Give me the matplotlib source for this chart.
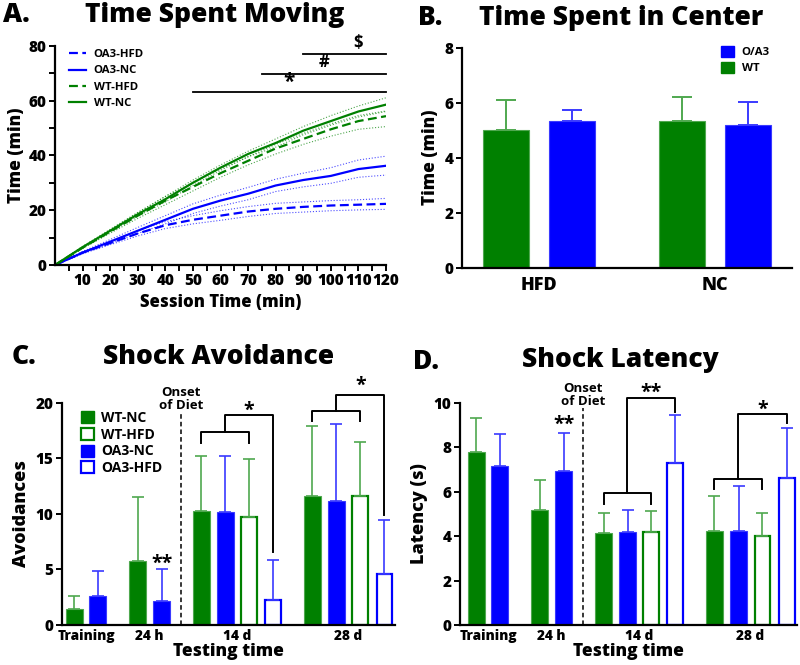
import matplotlib
matplotlib.use("Agg")
import matplotlib.pyplot as plt
from matplotlib.patches import Patch
import numpy as np

plt.rcParams['font.family'] = ['Open Sans', 'DejaVu Sans']
plt.rcParams['font.weight'] = 'bold'
plt.rcParams['axes.labelweight'] = 'bold'

GREEN = '#008000'
BLUE = '#0000ff'
GREEN_ERR = '#4fa84f'
BLUE_ERR = '#3a3aff'

# ---------------- Panel A data ----------------
session_time = [0, 10, 20, 30, 40, 50, 60, 70, 80, 90, 100, 110, 120]
wt_nc_mean = [0, 6.5, 12.5, 18.5, 24, 30, 35.5, 40.5, 44.5, 49, 52.5, 56, 58.5]
wt_nc_upper = [0, 6.8, 13, 19.2, 25, 31, 36.5, 41.5, 46, 50.5, 54.5, 58, 61]
wt_nc_lower = [0, 6.2, 12, 17.8, 23, 29, 34.5, 39.5, 43, 47.5, 51, 54, 56]
wt_hfd_mean = [0, 6.3, 12.2, 18, 23.5, 28.5, 33.5, 38, 42.5, 46, 49.5, 52.5, 54.3]
wt_hfd_upper = [0, 6.6, 12.8, 19, 25, 30, 35, 39.5, 44, 48, 51.5, 54.5, 56.2]
wt_hfd_lower = [0, 6, 11.6, 17, 22, 27, 32, 36.5, 40.5, 44, 47, 49.5, 50.5]
oa3_nc_mean = [0, 4.5, 8.5, 12.5, 16.5, 20.5, 23.5, 26, 29, 31, 32.5, 35, 36.2]
oa3_nc_upper = [0, 4.9, 9.3, 13.7, 18, 22.3, 25.5, 28.3, 31.3, 33.5, 35.5, 38.3, 39.7]
oa3_nc_lower = [0, 4.1, 7.8, 11.5, 15, 18.8, 21.5, 23.8, 26.8, 28.5, 29.8, 32, 32.8]
oa3_hfd_mean = [0, 4.5, 8, 11.5, 14.5, 16.5, 18, 19.5, 20.5, 21.2, 21.7, 22, 22.3]
oa3_hfd_upper = [0, 4.8, 8.7, 12.5, 15.8, 18, 19.8, 21.3, 22.5, 23, 23.5, 23.8, 24.3]
oa3_hfd_lower = [0, 4.2, 7.4, 10.6, 13.3, 15, 16.3, 17.7, 18.8, 19.3, 19.8, 20.1, 20.3]

# significance lines: (start, end, y, symbol)
sig_start = [90, 75, 50]
sig_end = [120, 120, 120]
sig_y = [76.8, 69.8, 63.2]
sig_symbols = ['$', '#', '*']

# ---------------- Panel B data ----------------
diet_groups = ['HFD', 'NC']
center_wt = [5.0, 5.33]
center_wt_err = [1.1, 0.87]
center_oa3 = [5.32, 5.18]
center_oa3_err = [0.41, 0.85]

# ---------------- Panel C / D data ----------------
test_times = ['Training', '24 h', '14 d', '28 d']
avoid_wt_nc = [1.47, 5.79, 10.3, 11.57]
avoid_wt_nc_err = [1.1, 5.7, 4.9, 6.3]
avoid_oa3_nc = [2.6, 2.19, 10.17, 11.15]
avoid_oa3_nc_err = [2.26, 2.81, 5.03, 6.95]
avoid_wt_hfd = [9.69, 11.57]
avoid_wt_hfd_err = [5.27, 4.93]
avoid_oa3_hfd = [2.28, 4.56]
avoid_oa3_hfd_err = [3.6, 4.89]

lat_wt_nc = [7.8, 5.17, 4.15, 4.21]
lat_wt_nc_err = [1.5, 1.35, 0.87, 1.58]
lat_oa3_nc = [7.14, 6.93, 4.2, 4.24]
lat_oa3_nc_err = [1.45, 1.72, 0.97, 2.03]
lat_wt_hfd = [4.2, 4.02]
lat_wt_hfd_err = [0.91, 1.0]
lat_oa3_hfd = [7.27, 6.6]
lat_oa3_hfd_err = [2.19, 2.28]

# ---------------- layout ----------------
fig = plt.figure(figsize=(8, 6.65), dpi=100)
H = 665.0

def fx(px):
    return px / 800.0

def fy(py):
    return 1 - py / H

def style_axes(ax):
    for s in ['top', 'right']:
        ax.spines[s].set_visible(False)
    for s in ['left', 'bottom']:
        ax.spines[s].set_linewidth(1.6)
        ax.spines[s].set_color('black')
    ax.tick_params(axis='both', which='major', width=1.4, length=4, labelsize=11, direction='out', pad=2)
    for lab in ax.get_xticklabels() + ax.get_yticklabels():
        lab.set_fontweight('heavy')

TITLE_FS = 19
TW = 'heavy'

# ---------------- Panel A ----------------
axA = fig.add_axes([fx(55), fy(265), fx(386 - 55), (265 - 45.7) / H])
t = np.array(session_time)
bands = [(wt_nc_upper, wt_nc_lower, GREEN), (wt_hfd_upper, wt_hfd_lower, GREEN),
         (oa3_nc_upper, oa3_nc_lower, BLUE), (oa3_hfd_upper, oa3_hfd_lower, BLUE)]
for up, lo, c in bands:
    axA.plot(t, up, color=c, lw=0.8, ls=':', alpha=0.7)
    axA.plot(t, lo, color=c, lw=0.8, ls=':', alpha=0.7)
axA.plot(t, oa3_hfd_mean, color=BLUE, lw=1.6, ls=(0, (4, 2)), label='OA3-HFD')
axA.plot(t, oa3_nc_mean, color=BLUE, lw=1.6, label='OA3-NC')
axA.plot(t, wt_hfd_mean, color=GREEN, lw=1.6, ls=(0, (4, 2)), label='WT-HFD')
axA.plot(t, wt_nc_mean, color=GREEN, lw=1.6, label='WT-NC')
for s0, s1, yy, sym in zip(sig_start, sig_end, sig_y, sig_symbols):
    axA.plot([s0, s1], [yy, yy], color='black', lw=1.3, clip_on=False)
    xm = (s0 + s1) / 2 + (5 if sym == '$' else 0)
    fs = 15 if sym == '*' else 12
    dy = -0.6 if sym == '*' else 0.8
    axA.text(xm, yy + dy, sym, ha='center', va='bottom', fontsize=fs, fontweight='bold')
axA.set_xlim(0, 120)
axA.set_ylim(0, 80)
axA.set_xticks(range(10, 121, 10))
axA.set_xticks(range(5, 121, 10), minor=True)
axA.set_yticks([0, 20, 40, 60, 80])
axA.set_yticks([10, 30, 50, 70], minor=True)
axA.tick_params(which='minor', length=4, width=1.4)
style_axes(axA)
axA.set_xlabel('Session Time (min)', fontsize=12, labelpad=3, fontweight=TW)
axA.set_ylabel('Time (min)', fontsize=12.5, labelpad=3, fontweight=TW)
axA.legend(loc='upper left', bbox_to_anchor=(0.01, 1.03), frameon=False,
           prop={'size': 8.2, 'weight': 'bold'}, handlelength=1.5,
           labelspacing=0.45, handletextpad=0.7)
fig.text(fx(3), fy(15), 'A.', fontsize=TITLE_FS, fontweight=TW, va='center', ha='left')
fig.text(fx(215), fy(15), 'Time Spent Moving', fontsize=TITLE_FS, fontweight=TW, va='center', ha='center')

# ---------------- Panel B ----------------
axB = fig.add_axes([fx(461.7), fy(267.7), fx(791.7 - 461.7), (267.7 - 47.7) / H])
b_centers = np.array([1.17, 3.84])
bw = 0.7
axB.bar(b_centers - 0.5, center_wt, bw, color=GREEN, edgecolor=GREEN_ERR, lw=0.8,
        yerr=[np.zeros(2), center_wt_err], error_kw=dict(ecolor=GREEN_ERR, capsize=7, elinewidth=1.4, capthick=1.4),
        label='WT')
axB.bar(b_centers + 0.5, center_oa3, bw, color=BLUE, edgecolor=BLUE_ERR, lw=0.8,
        yerr=[np.zeros(2), center_oa3_err], error_kw=dict(ecolor=BLUE_ERR, capsize=7, elinewidth=1.4, capthick=1.4),
        label='O/A3')
axB.set_xlim(0, 5)
axB.set_ylim(0, 8)
axB.set_yticks([0, 2, 4, 6, 8])
axB.set_xticks(b_centers)
axB.set_xticklabels(diet_groups)
style_axes(axB)
axB.tick_params(axis='x', length=0, labelsize=13, pad=7)
axB.set_ylabel('Time (min)', fontsize=12.5, labelpad=4, fontweight=TW)
hB = [Patch(facecolor=BLUE, edgecolor=BLUE), Patch(facecolor=GREEN, edgecolor=GREEN)]
axB.legend(hB, ['O/A3', 'WT'], loc='upper right', bbox_to_anchor=(0.965, 1.055), frameon=False,
           prop={'size': 8.2, 'weight': 'bold'}, handlelength=1.15, handleheight=1.15,
           labelspacing=0.3, handletextpad=0.7)
fig.text(fx(418), fy(18), 'B.', fontsize=TITLE_FS, fontweight=TW, va='center', ha='left')
fig.text(fx(621), fy(18), 'Time Spent in Center', fontsize=TITLE_FS, fontweight=TW, va='center', ha='center')

# ---------------- Panels C and D ----------------
base_pos = [[0.53, 1.51], [3.17, 4.17], [5.83, 6.83, 7.8, 8.8], [10.45, 11.46, 12.45, 13.46]]
DW = 0.71

def draw_timecourse(ax, off, wt_nc, wt_nc_e, oa3_nc, oa3_nc_e, wt_hfd, wt_hfd_e, oa3_hfd, oa3_hfd_e, cap=4.5):
    p_wt_nc = np.array([g[0] for g in base_pos]) + off
    p_oa3_nc = np.array([g[1] for g in base_pos]) + off
    p_wt_hfd = np.array([g[2] for g in base_pos[2:]]) + off
    p_oa3_hfd = np.array([g[3] for g in base_pos[2:]]) + off
    ek_g = dict(ecolor=GREEN_ERR, capsize=cap, elinewidth=1.2, capthick=1.2)
    ek_b = dict(ecolor=BLUE_ERR, capsize=cap, elinewidth=1.2, capthick=1.2)
    ax.bar(p_wt_nc, wt_nc, DW, color=GREEN, edgecolor=GREEN_ERR, lw=0.8,
           yerr=[np.zeros(len(wt_nc)), wt_nc_e], error_kw=ek_g, label='WT-NC')
    ax.bar(p_oa3_nc, oa3_nc, DW, color=BLUE, edgecolor=BLUE_ERR, lw=0.8,
           yerr=[np.zeros(len(oa3_nc)), oa3_nc_e], error_kw=ek_b, label='OA3-NC')
    ax.bar(p_wt_hfd, wt_hfd, DW * 0.92, color='white', edgecolor=GREEN, lw=1.6,
           yerr=[np.zeros(len(wt_hfd)), wt_hfd_e], error_kw=ek_g, label='WT-HFD')
    ax.bar(p_oa3_hfd, oa3_hfd, DW * 0.92, color='white', edgecolor=BLUE, lw=1.6,
           yerr=[np.zeros(len(oa3_hfd)), oa3_hfd_e], error_kw=ek_b, label='OA3-HFD')
    centers = [np.mean(g) + off for g in base_pos]
    ax.set_xticks(centers)
    ax.set_xticklabels(test_times)
    return p_wt_nc, p_oa3_nc, p_wt_hfd, p_oa3_hfd

def bracket(ax, xa, xb, y_low_leg, y_low, x_target, y_top, y_target):
    xm = (xa + xb) / 2
    ax.plot([xa, xa, xb, xb], [y_low_leg, y_low, y_low, y_low_leg], color='black', lw=1.4, clip_on=False)
    ax.plot([xm, xm, x_target, x_target], [y_low, y_top, y_top, y_target], color='black', lw=1.4, clip_on=False)

# Panel C
axC = fig.add_axes([fx(61.7), fy(625), fx(395 - 61.7), (625 - 402.7) / H])
pC = draw_timecourse(axC, 0.0, avoid_wt_nc, avoid_wt_nc_err, avoid_oa3_nc, avoid_oa3_nc_err,
                     avoid_wt_hfd, avoid_wt_hfd_err, avoid_oa3_hfd, avoid_oa3_hfd_err)
axC.set_xlim(0, 13.9)
axC.set_ylim(0, 20)
axC.set_yticks([0, 5, 10, 15, 20])
style_axes(axC)
axC.tick_params(axis='x', length=0, labelsize=9.8, pad=3)
axC.axvline(4.96, ymin=0, ymax=19.0 / 20, color='black', lw=1.1, ls=(0, (3, 2)))
axC.text(4.96, 20.35, 'Onset\nof Diet', ha='center', va='center', fontsize=9.5, fontweight='bold',
         linespacing=1.05, clip_on=False)
bracket(axC, pC[0][2], pC[2][0], 16.34, 17.33, pC[3][0], 18.9, 6.6)
axC.text(pC[2][0], 19.3, '*', ha='center', va='center', fontsize=14, fontweight='bold')
bracket(axC, pC[0][3], pC[2][1], 18.38, 19.28, pC[3][1], 20.7, 9.9)
axC.text(pC[2][1], 21.5, '*', ha='center', va='center', fontsize=14, fontweight='bold', clip_on=False)
axC.text(pC[1][1], 5.5, '**', ha='center', va='center', fontsize=14, fontweight='bold')
axC.set_xlabel('Testing time', fontsize=12.5, labelpad=0, fontweight=TW)
axC.set_ylabel('Avoidances', fontsize=13, labelpad=4, fontweight=TW)
hC = [Patch(facecolor=GREEN, edgecolor=GREEN), Patch(facecolor='white', edgecolor=GREEN, lw=1.6),
      Patch(facecolor=BLUE, edgecolor=BLUE), Patch(facecolor='white', edgecolor=BLUE, lw=1.6)]
axC.legend(hC, ['WT-NC', 'WT-HFD', 'OA3-NC', 'OA3-HFD'], loc='upper left', bbox_to_anchor=(0.02, 1.02),
           frameon=False, prop={'size': 10, 'weight': 'bold'}, handlelength=0.95, handleheight=0.95,
           labelspacing=0.2, handletextpad=0.5)
fig.text(fx(12), fy(357), 'C.', fontsize=TITLE_FS, fontweight=TW, va='center', ha='left')
fig.text(fx(219), fy(357), 'Shock Avoidance', fontsize=TITLE_FS, fontweight=TW, va='center', ha='center')

# Panel D
axD = fig.add_axes([fx(460), fy(625), fx(797 - 460), (625 - 402.7) / H])
pD = draw_timecourse(axD, 0.15, lat_wt_nc, lat_wt_nc_err, lat_oa3_nc, lat_oa3_nc_err,
                     lat_wt_hfd, lat_wt_hfd_err, lat_oa3_hfd, lat_oa3_hfd_err)
axD.set_xlim(0, 14.04)
axD.set_ylim(0, 10)
axD.set_yticks([0, 2, 4, 6, 8, 10])
style_axes(axD)
axD.tick_params(axis='x', length=0, labelsize=9.8, pad=3)
axD.axvline(5.11, ymin=0, ymax=9.75 / 10, color='black', lw=1.1, ls=(0, (3, 2)))
axD.text(5.11, 10.35, 'Onset\nof Diet', ha='center', va='center', fontsize=9.5, fontweight='bold',
         linespacing=1.05, clip_on=False)
bracket(axD, pD[0][2], pD[2][0], 5.44, 5.92, pD[3][0], 10.22, 9.6)
axD.text(pD[2][0], 10.45, '**', ha='center', va='center', fontsize=14, fontweight='bold', clip_on=False)
bracket(axD, pD[0][3], pD[2][1], 6.1, 6.57, pD[3][1], 9.48, 9.07)
axD.text(pD[2][1], 9.7, '*', ha='center', va='center', fontsize=14, fontweight='bold')
axD.text(pD[1][1], 9.0, '**', ha='center', va='center', fontsize=14, fontweight='bold')
axD.set_xlabel('Testing time', fontsize=12.5, labelpad=0, fontweight=TW)
axD.set_ylabel('Latency (s)', fontsize=13, labelpad=4, fontweight=TW)
fig.text(fx(413), fy(362), 'D.', fontsize=TITLE_FS, fontweight=TW, va='center', ha='left')
fig.text(fx(620), fy(360), 'Shock Latency', fontsize=TITLE_FS, fontweight=TW, va='center', ha='center')

fig.savefig('out.png', dpi=100)
